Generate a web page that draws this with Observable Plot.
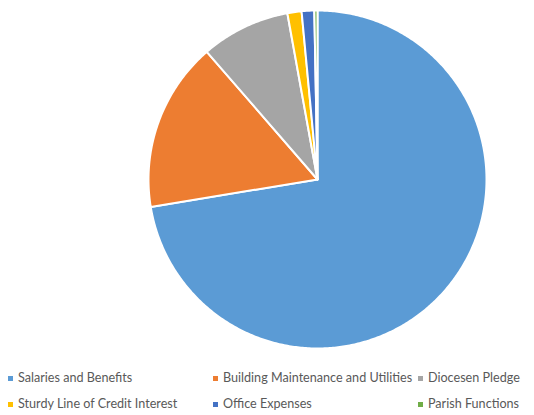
<!DOCTYPE html>
<html>
<head>
<meta charset="utf-8">
<script src="https://cdn.jsdelivr.net/npm/d3@7"></script>
<script src="https://cdn.jsdelivr.net/npm/@observablehq/plot@0.6"></script>
<style>
  html, body { margin: 0; padding: 0; background: #fff; }
  #wrap { position: relative; width: 534px; height: 415px; overflow: hidden; }
  #legend { position: absolute; left: 0; top: 0; width: 534px; height: 415px; pointer-events: none; }
  .item { position: absolute; font-family: Lato, "Liberation Sans", sans-serif; font-size: 12.6px; color: #595959; white-space: nowrap; line-height: 14px; }
  .sw { position: absolute; width: 5px; height: 5px; }
</style>
</head>
<body>
<div id="wrap">
  <div id="chart"></div>
  <div id="legend"></div>
</div>
<script>
const categories = ["Salaries and Benefits", "Building Maintenance and Utilities", "Diocesen Pledge", "Sturdy Line of Credit Interest", "Office Expenses", "Parish Functions"];
const values = [72.3, 16.2, 8.5, 1.35, 1.2, 0.3];
const colors = ["#5B9BD5", "#ED7D31", "#A5A5A5", "#FFC000", "#4472C4", "#70AD47"];

// slice outlines in unit-circle coordinates (angles from d3.pie, clockwise from top)
const arcs = d3.pie().sort(null).value(d => d)(values);
const points = [];
arcs.forEach((a, i) => {
  const cat = categories[i];
  points.push({cat, x: 0, y: 0});
  const n = Math.max(2, Math.ceil((a.endAngle - a.startAngle) / 0.01));
  for (let k = 0; k <= n; k++) {
    const t = a.startAngle + (a.endAngle - a.startAngle) * k / n;
    points.push({cat, x: Math.sin(t), y: Math.cos(t)});
  }
});

const chart = Plot.plot({
  width: 534,
  height: 362,
  x: {domain: [-1, 1], range: [148, 486], axis: null},
  y: {domain: [-1, 1], range: [348, 10], axis: null},
  color: {domain: categories, range: colors},
  marks: [
    Plot.line(points, {x: "x", y: "y", z: "cat", fill: "cat", stroke: "white", strokeWidth: 2, strokeLinejoin: "round", curve: "linear-closed"})
  ]
});
document.getElementById("chart").appendChild(chart);

// legend (below the SVG)
const legendPos = [[8, 371], [213, 371], [418, 371], [8, 397], [213, 397], [418, 397]];
const legend = document.getElementById("legend");
categories.forEach((c, i) => {
  const [lx, ly] = legendPos[i];
  const sw = document.createElement("div");
  sw.className = "sw";
  sw.style.left = lx + "px";
  sw.style.top = (ly + 5) + "px";
  sw.style.background = colors[i];
  legend.appendChild(sw);
  const t = document.createElement("div");
  t.className = "item";
  t.style.left = (lx + 10) + "px";
  t.style.top = ly + "px";
  t.textContent = c;
  legend.appendChild(t);
});
</script>
</body>
</html>
